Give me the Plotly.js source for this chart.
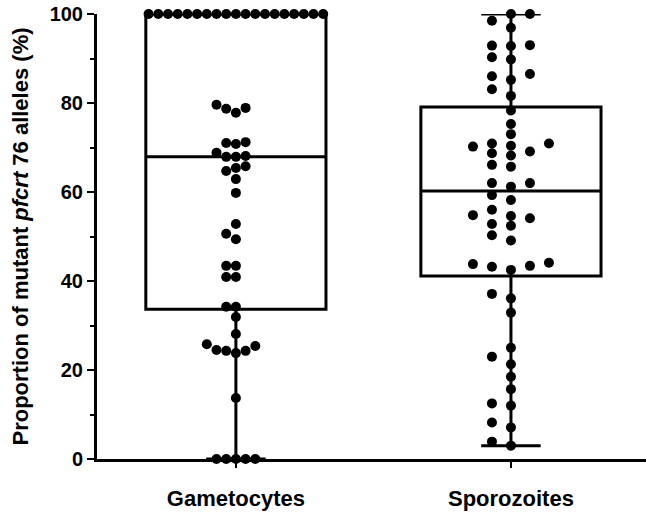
<!DOCTYPE html>
<html>
<head>
<meta charset="utf-8">
<script src="https://cdn.plot.ly/plotly-3.0.1.min.js"></script>
<style>html,body{margin:0;padding:0;background:#fff;}#chart{width:646px;height:514px;}</style>
</head>
<body>
<div id="chart"></div>
<script>
// ---- data ----
const categories = ['Gametocytes', 'Sporozoites'];

const gametocytes = [
  100, 100, 100, 100, 100, 100, 100, 100, 100, 100,
  100, 100, 100, 100, 100, 100, 100, 100, 100,
  79.6, 78.9, 78.7, 77.8,
  71.2, 71.0, 70.8,
  68.8, 68.1, 67.9, 67.9,
  65.8, 65.4, 64.7, 62.9, 59.8,
  52.8, 50.6, 49.4,
  43.4, 43.4, 40.9, 40.9,
  34.2, 34.2, 31.9, 28.1,
  25.8, 25.4, 24.5, 24.3, 24.3, 23.8,
  13.7,
  0, 0, 0, 0, 0
];

const sporozoites = [
  100, 100, 98.5, 96.9, 93.0, 92.9, 92.8, 90.3, 89.8, 86.5,
  86.0, 85.2, 83.1, 81.6, 78.3, 75.3, 73.0, 70.9, 70.9, 70.4,
  70.2, 69.1, 68.7, 68.2, 66.1, 65.7, 62.0, 62.0, 61.2, 59.3,
  58.2, 56.0, 54.8, 54.6, 54.1, 52.8, 52.4, 50.3, 49.1, 44.1,
  43.8, 43.4, 43.2, 42.5, 37.1, 36.1, 32.9, 25.0, 23.0, 21.3,
  18.5, 15.7, 12.5, 12.0, 8.2, 7.1, 3.9, 3.0
];

const yTickVals = [0, 20, 40, 60, 80, 100];
const yMinorVals = [10, 30, 50, 70, 90];

// ---- layout constants ----
const W = 646, H = 514;
const M = {l: 97, r: 0, t: 14, b: 55};
const xRange = [-0.505, 1.491];
const yRange = [0, 100];
const pxPerX = (W - M.l - M.r) / (xRange[1] - xRange[0]);
const pxPerY = (H - M.t - M.b) / (yRange[1] - yRange[0]);

// quartiles with the (n+1) method
function quant(sorted, p) {
  const n = sorted.length;
  const pos = p * (n + 1);
  if (pos <= 1) return sorted[0];
  if (pos >= n) return sorted[n - 1];
  const lo = Math.floor(pos), f = pos - lo;
  return sorted[lo - 1] + f * (sorted[lo] - sorted[lo - 1]);
}
function stats(vals) {
  const s = vals.slice().sort((a, b) => a - b);
  return {q1: quant(s, 0.25), med: quant(s, 0.5), q3: quant(s, 0.75), lo: s[0], hi: s[s.length - 1]};
}

// deterministic beeswarm in pixel space
function swarm(vals, stepPx, diamPx) {
  const idx = vals.map((v, i) => i).sort((a, b) => vals[a] - vals[b]);
  const placed = [];
  const off = new Array(vals.length).fill(0);
  idx.forEach(i => {
    const ypx = vals[i] * pxPerY;
    for (let k = 0; k < 60; k++) {
      const cands = k === 0 ? [0] : [-k, k];
      let done = false;
      for (const c of cands) {
        const xpx = c * stepPx;
        const hit = placed.some(p => {
          const dx = p.x - xpx, dy = p.y - ypx;
          return dx * dx + dy * dy < diamPx * diamPx;
        });
        if (!hit) { off[i] = xpx; placed.push({x: xpx, y: ypx}); done = true; break; }
      }
      if (done) break;
    }
  });
  return off;
}

const groups = [
  {vals: gametocytes, step: 9.7, diam: 9.5},
  {vals: sporozoites, step: 19, diam: 9}
];

const traces = [];
groups.forEach((g, gi) => {
  const st = stats(g.vals);
  traces.push({
    type: 'box',
    x: [gi],
    q1: [st.q1], median: [st.med], q3: [st.q3],
    lowerfence: [st.lo], upperfence: [st.hi],
    width: 0.655,
    whiskerwidth: 0.33,
    boxpoints: false,
    fillcolor: 'rgba(0,0,0,0)',
    line: {color: '#000', width: 3},
    hoverinfo: 'skip',
    showlegend: false
  });
});
groups.forEach((g, gi) => {
  const off = swarm(g.vals, g.step, g.diam);
  traces.push({
    type: 'scatter',
    mode: 'markers',
    x: g.vals.map((v, i) => gi + off[i] / pxPerX),
    y: g.vals,
    cliponaxis: false,
    marker: {color: '#000', size: 10, line: {width: 0}},
    hoverinfo: 'y',
    showlegend: false
  });
});

const fontFam = 'Liberation Sans, Arial, Helvetica, sans-serif';
const layout = {
  width: W, height: H,
  margin: M,
  paper_bgcolor: '#fff', plot_bgcolor: '#fff',
  showlegend: false,
  font: {family: fontFam, color: '#000'},
  xaxis: {
    range: xRange,
    tickvals: [0, 1],
    ticktext: categories,
    showline: true, linecolor: '#000', linewidth: 3,
    ticks: 'outside', ticklen: 6, tickwidth: 2, tickcolor: '#000',
    tickfont: {family: fontFam, size: 22, weight: 'bold', color: '#000'},
    ticklabelstandoff: 12,
    showgrid: false, zeroline: false,
    layer: 'below traces',
    fixedrange: true
  },
  yaxis: {
    range: yRange,
    tickvals: yTickVals,
    ticktext: yTickVals.map(String),
    showline: true, linecolor: '#000', linewidth: 3,
    ticks: 'outside', ticklen: 7, tickwidth: 2.5, tickcolor: '#000',
    minor: {tickvals: yMinorVals, ticks: 'outside', ticklen: 4, tickwidth: 2, tickcolor: '#000'},
    tickfont: {family: fontFam, size: 20, weight: 'bold', color: '#000'},
    title: {
      text: 'Proportion of mutant <i>pfcrt</i> 76 alleles (%)',
      font: {family: fontFam, size: 22, weight: 'bold', color: '#000'},
      standoff: 15
    },
    showgrid: false, zeroline: false,
    layer: 'below traces',
    fixedrange: true
  }
};

Plotly.newPlot('chart', traces, layout, {staticPlot: true, displayModeBar: false});
</script>
</body>
</html>
